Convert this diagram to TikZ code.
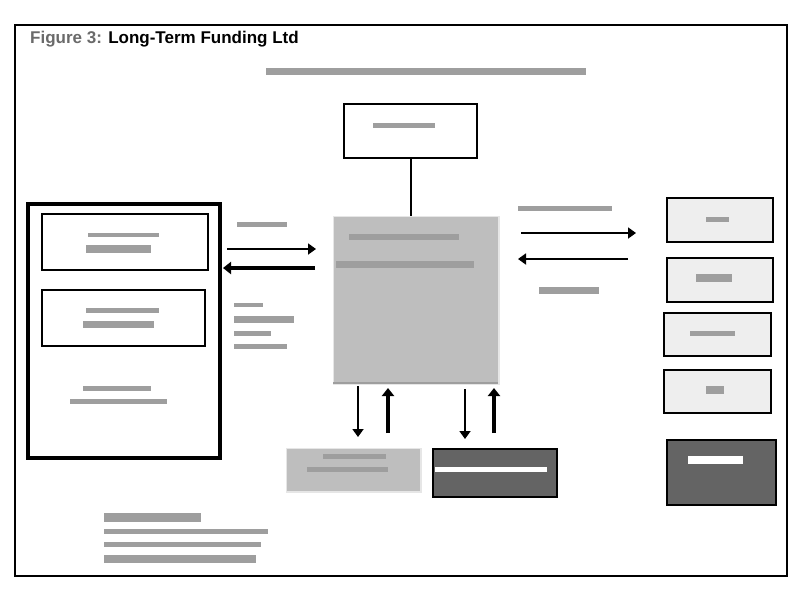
\documentclass[tikz,border=0pt]{standalone}
\usepackage{fontspec}
\setmainfont{Liberation Sans}
\usetikzlibrary{arrows.meta}
\definecolor{barg}{HTML}{9E9E9E}
\definecolor{midg}{HTML}{BEBEBE}
\definecolor{lightg}{HTML}{EEEEEE}
\definecolor{darkg}{HTML}{646464}
\definecolor{edgeg}{HTML}{E6E6E6}
\tikzset{
  box/.style={draw=black, line width=2pt, fill=white, anchor=north west, inner sep=0pt},
  lightbox/.style={box, fill=lightg},
  darkbox/.style={box, fill=darkg},
  graybox/.style={draw=edgeg, line width=1.5pt, fill=midg, anchor=north west, inner sep=0pt},
  bar/.style={fill=barg},
  wbar/.style={fill=white},
  thinarr/.style={line width=1.8pt, -{Triangle[length=8pt 0,width=11pt 0]}},
  thickarr/.style={line width=3.8pt, -{Triangle[length=8pt 0,width=12pt 0]}},
}
\begin{document}
\begin{tikzpicture}[x=1pt,y=-1pt]
\useasboundingbox (0,0) rectangle (800,592);
% frame
\draw[line width=2pt] (15,25) rectangle (787,576);
% title
\node[anchor=base west, inner sep=0pt, font=\fontsize{17}{19}\selectfont\bfseries] (title) at (30,43.5)
  {\textcolor[HTML]{6A6A6A}{Figure 3:} Long-Term Funding Ltd};
\fill[bar] (266,68) rectangle (586,75);
% top box
\node[box, minimum width=133pt, minimum height=54pt] (top) at (343,103) {};
\fill[bar] (373,123) rectangle (435,128);
% central box
\node[graybox, minimum width=165.5pt, minimum height=167.5pt] (center) at (332.75,215.75) {};
\draw[barg, line width=2pt] (333,382.5) -- (498,382.5);
\fill[bar] (349,234) rectangle (459,240);
\fill[bar] (336,261) rectangle (474,268);
\draw[line width=2pt] (top.south) -- (top.south |- center.north);
% left group
\node[box, line width=4pt, minimum width=192pt, minimum height=254pt] (left) at (26,202) {};
\node[box, minimum width=166pt, minimum height=56pt] (l1) at (41,213) {};
\fill[bar] (88,233) rectangle (159,237);
\fill[bar] (86,245) rectangle (151,253);
\node[box, minimum width=163pt, minimum height=56pt] (l2) at (41,289) {};
\fill[bar] (86,308) rectangle (159,313);
\fill[bar] (83,321) rectangle (154,328);
\fill[bar] (83,386) rectangle (151,391);
\fill[bar] (70,399) rectangle (167,404);
% left arrows
\coordinate (la1s) at (227,249); \coordinate (la1e) at (316,249);
\coordinate (la2s) at (315,268); \coordinate (la2e) at (223,268);
\draw[thinarr] (la1s) -- (la1e);
\draw[thickarr] (la2s) -- (la2e);
\fill[bar] (237,222) rectangle (287,227);
\fill[bar] (234,303) rectangle (263,307);
\fill[bar] (234,316) rectangle (294,323);
\fill[bar] (234,331) rectangle (271,336);
\fill[bar] (234,344) rectangle (287,349);
% right arrows
\coordinate (ra1s) at (521,233); \coordinate (ra1e) at (636,233);
\coordinate (ra2s) at (628,259); \coordinate (ra2e) at (518,259);
\draw[thinarr] (ra1s) -- (ra1e);
\draw[thinarr] (ra2s) -- (ra2e);
\fill[bar] (518,206) rectangle (612,211);
\fill[bar] (539,287) rectangle (599,294);
% right boxes
\node[lightbox, minimum width=106pt, minimum height=44pt] (r1) at (666,197) {};
\fill[bar] (706,217) rectangle (729,222);
\node[lightbox, minimum width=106pt, minimum height=44pt] (r2) at (666,257) {};
\fill[bar] (696,274) rectangle (732,282);
\node[lightbox, minimum width=107pt, minimum height=43pt] (r3) at (663,312) {};
\fill[bar] (690,331) rectangle (735,336);
\node[lightbox, minimum width=107pt, minimum height=43pt] (r4) at (663,369) {};
\fill[bar] (706,386) rectangle (724,394);
\node[darkbox, minimum width=109pt, minimum height=65pt] (r5) at (666,439) {};
\fill[wbar] (688,456) rectangle (743,464);
% bottom boxes
\node[graybox, minimum width=134.5pt, minimum height=43.5pt] (b1) at (285.75,447.75) {};
\fill[bar] (323,454) rectangle (386,459);
\fill[bar] (307,467) rectangle (388,472);
\node[darkbox, minimum width=124pt, minimum height=48pt] (b2) at (432,448) {};
\fill[wbar] (435,467) rectangle (547,472);
% bottom arrows
\coordinate (d1s) at (358,386); \coordinate (d1e) at (358,437);
\coordinate (u1s) at (388,433); \coordinate (u1e) at (388,388);
\coordinate (d2s) at (465,389); \coordinate (d2e) at (465,439);
\coordinate (u2s) at (494,433); \coordinate (u2e) at (494,388);
\draw[thinarr] (d1s) -- (d1e);
\draw[thickarr] (u1s) -- (u1e);
\draw[thinarr] (d2s) -- (d2e);
\draw[thickarr] (u2s) -- (u2e);
% bottom text bars
\fill[bar] (104,513) rectangle (201,522);
\fill[bar] (104,529) rectangle (268,534);
\fill[bar] (104,542) rectangle (261,547);
\fill[bar] (104,555) rectangle (256,563);
\end{tikzpicture}
\end{document}
